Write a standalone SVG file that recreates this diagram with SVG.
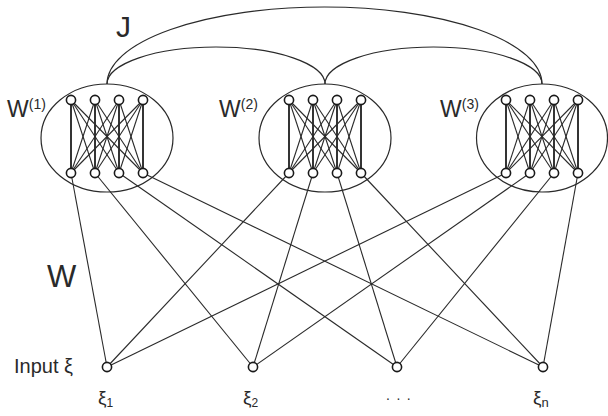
<svg xmlns="http://www.w3.org/2000/svg" xmlns:xlink="http://www.w3.org/1999/xlink" width="608" height="416" viewBox="0 0 608 416">
<style>
.bg{fill:#fff}
.edge{stroke:#2a2a2a;stroke-width:1.1;fill:none}
.v{stroke:#2a2a2a;stroke-width:1.9}
.arc{stroke:#2a2a2a;stroke-width:1.2;fill:none}
.ell{stroke:#2a2a2a;stroke-width:1.2;fill:none}
.nd{fill:#fff;stroke:#1a1a1a;stroke-width:1.6}
text{font-family:"Liberation Sans",Arial,sans-serif;fill:#2a2a2a}
</style>
<defs>
<g id="inner" class="edge">
<line x1="0" y1="100" x2="0" y2="173" class="v"/>
<line x1="0" y1="100" x2="24" y2="173"/>
<line x1="0" y1="100" x2="48" y2="173"/>
<line x1="0" y1="100" x2="72" y2="173"/>
<line x1="24" y1="100" x2="0" y2="173"/>
<line x1="24" y1="100" x2="24" y2="173" class="v"/>
<line x1="24" y1="100" x2="48" y2="173"/>
<line x1="24" y1="100" x2="72" y2="173"/>
<line x1="48" y1="100" x2="0" y2="173"/>
<line x1="48" y1="100" x2="24" y2="173"/>
<line x1="48" y1="100" x2="48" y2="173" class="v"/>
<line x1="48" y1="100" x2="72" y2="173"/>
<line x1="72" y1="100" x2="0" y2="173"/>
<line x1="72" y1="100" x2="24" y2="173"/>
<line x1="72" y1="100" x2="48" y2="173"/>
<line x1="72" y1="100" x2="72" y2="173" class="v"/>
</g>
<g id="nodes4">
<circle cx="0" cy="100" r="4.6" class="nd"/>
<circle cx="24" cy="100" r="4.6" class="nd"/>
<circle cx="48" cy="100" r="4.6" class="nd"/>
<circle cx="72" cy="100" r="4.6" class="nd"/>
<circle cx="0" cy="173" r="4.6" class="nd"/>
<circle cx="24" cy="173" r="4.6" class="nd"/>
<circle cx="48" cy="173" r="4.6" class="nd"/>
<circle cx="72" cy="173" r="4.6" class="nd"/>
</g>
</defs>
<rect class="bg" x="0" y="0" width="608" height="416"/>

<g id="connectors">
<g id="J-arcs">
<path class="arc" d="M107,84 A217.5,77 0 0 1 542,84"/>
<path class="arc" d="M107,84 A109,37 0 0 1 325,84"/>
<path class="arc" d="M325,84 A108.5,37 0 0 1 542,84"/>
</g>
<g id="W-edges" class="edge">
<line x1="71" y1="173" x2="107" y2="367"/>
<line x1="95" y1="173" x2="253" y2="367"/>
<line x1="119" y1="173" x2="397" y2="367"/>
<line x1="143" y1="173" x2="543" y2="367"/>
<line x1="289" y1="173" x2="107" y2="367"/>
<line x1="313" y1="173" x2="253" y2="367"/>
<line x1="337" y1="173" x2="397" y2="367"/>
<line x1="361" y1="173" x2="543" y2="367"/>
<line x1="506" y1="173" x2="107" y2="367"/>
<line x1="530" y1="173" x2="253" y2="367"/>
<line x1="554" y1="173" x2="397" y2="367"/>
<line x1="578" y1="173" x2="543" y2="367"/>
</g>
<g id="inner-edges">
<use xlink:href="#inner" href="#inner" transform="translate(71,0)"/>
<use xlink:href="#inner" href="#inner" transform="translate(289,0)"/>
<use xlink:href="#inner" href="#inner" transform="translate(506,0)"/>
</g>
</g>

<g id="module1">
<ellipse class="ell" cx="107" cy="138" rx="66" ry="54"/>
<use xlink:href="#nodes4" href="#nodes4" transform="translate(71,0)"/>
<text x="7" y="117" font-size="23">W<tspan font-size="14" dy="-8">(1)</tspan></text>
</g>
<g id="module2">
<ellipse class="ell" cx="325" cy="138" rx="66" ry="54"/>
<use xlink:href="#nodes4" href="#nodes4" transform="translate(289,0)"/>
<text x="219" y="117" font-size="23">W<tspan font-size="14" dy="-8">(2)</tspan></text>
</g>
<g id="module3">
<ellipse class="ell" cx="542" cy="138" rx="65.5" ry="54"/>
<use xlink:href="#nodes4" href="#nodes4" transform="translate(506,0)"/>
<text x="440" y="117" font-size="23">W<tspan font-size="14" dy="-8">(3)</tspan></text>
</g>

<g id="input1">
<circle cx="107" cy="367" r="4.6" class="nd"/>
<text x="98" y="404" font-size="19">ξ<tspan font-size="12" dy="3">1</tspan></text>
</g>
<g id="input2">
<circle cx="253" cy="367" r="4.6" class="nd"/>
<text x="243" y="404" font-size="19">ξ<tspan font-size="12" dy="3">2</tspan></text>
</g>
<g id="input3">
<circle cx="397" cy="367" r="4.6" class="nd"/>
<text x="386" y="400" font-size="14" letter-spacing="6.5">...</text>
</g>
<g id="inputn">
<circle cx="543" cy="367" r="4.6" class="nd"/>
<text x="533" y="404" font-size="19">ξ<tspan font-size="13" dy="3">n</tspan></text>
</g>

<g id="labels">
<text x="116" y="37" font-size="30">J</text>
<text x="47" y="287" font-size="31">W</text>
<text x="14" y="373" font-size="20">Input ξ</text>
</g>
</svg>
